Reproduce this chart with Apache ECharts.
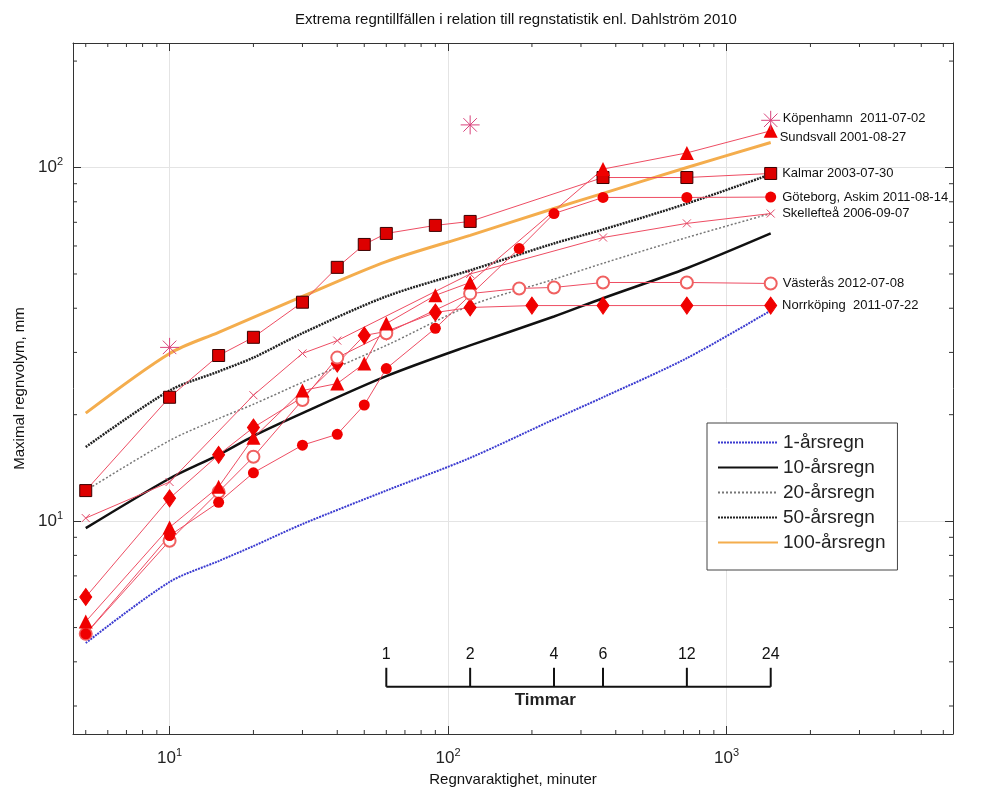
<!DOCTYPE html>
<html>
<head>
<meta charset="utf-8">
<script src="https://cdn.jsdelivr.net/npm/echarts@6.0.0/dist/echarts.min.js"></script>
<style>
  html, body { margin: 0; background: #fff; }
  #main { width: 987px; height: 796px; }
</style>
</head>
<body>
<div id="main"></div>
<script>
var FONT = '"Liberation Sans", Arial, sans-serif';
var XMIN = 4.5, XMAX = 6500, YMIN = 2.5, YMAX = 225;

// Dahlström-kurvor (minuter -> mm)
var curveMin = [5, 10, 15, 20, 30, 60, 120, 240, 360, 720, 1440];
var ar1 = [4.52, 6.73, 7.71, 8.5, 9.81, 12.2, 15.1, 19.4, 22.4, 28.9, 39.4];
var ar10 = [9.55, 13.2, 15.4, 17.4, 20.2, 25.7, 31.4, 37.9, 42.7, 51.9, 65.1];
var ar20 = [12.2, 16.9, 19.5, 21.4, 24.7, 31.4, 40.7, 48.3, 53.6, 63.4, 74.1];
var ar50 = [16.2, 23.4, 26.5, 29.0, 34.0, 43.2, 51.2, 61.0, 66.8, 79.1, 95.7];
var ar100 = [20.2, 29.8, 34.2, 37.7, 43.2, 54.2, 64.3, 76.6, 84.5, 100, 117.7];
var curveNames = ['1-årsregn', '10-årsregn', '20-årsregn', '50-årsregn', '100-årsregn'];

// regntillfällen
var kopMin = [10, 120, 1440];
var kopMm = [31.0, 132, 136];
var sundMin = [5, 10, 15, 20, 30, 40, 50, 60, 90, 120, 360, 720, 1440];
var sundMm = [5.2, 9.6, 12.5, 17.2, 23.4, 24.5, 27.9, 36.2, 43.5, 47.3, 99, 110, 127];
var kalMin = [5, 10, 15, 20, 30, 40, 50, 60, 90, 120, 360, 720, 1440];
var kalMm = [12.2, 22.4, 29.4, 33.1, 41.6, 52.2, 60.6, 65.1, 68.6, 70.4, 93.7, 93.7, 96.2];
var gbgMin = [5, 10, 15, 20, 30, 40, 50, 60, 90, 180, 240, 360, 720, 1440];
var gbgMm = [4.8, 9.1, 11.3, 13.7, 16.4, 17.6, 21.3, 27.0, 35.1, 59.0, 74.1, 82.3, 82.3, 82.5];
var skeMin = [5, 10, 20, 30, 40, 120, 360, 720, 1440];
var skeMm = [10.2, 12.9, 22.7, 29.8, 32.4, 50, 63.4, 69.5, 74.1];
var vasMin = [5, 10, 15, 20, 30, 40, 60, 120, 180, 240, 360, 720, 1440];
var vasMm = [4.8, 8.8, 12.1, 15.2, 22, 29.0, 34.0, 44.0, 45.5, 45.8, 47.3, 47.3, 47.0];
var norMin = [5, 10, 15, 20, 30, 40, 50, 60, 90, 120, 200, 360, 720, 1440];
var norMm = [6.1, 11.6, 15.4, 18.4, 22.4, 27.9, 33.5, 34.4, 38.9, 40.2, 40.7, 40.7, 40.7, 40.7];

// timskala och små tickmarkeringar
var hours = [1, 2, 4, 6, 12, 24];
var BAR_Y = 3.4;
var xMinor = [5, 6, 7, 8, 9, 20, 30, 40, 50, 60, 70, 80, 90, 200, 300, 400, 500, 600, 700, 800, 900, 2000, 3000, 4000, 5000, 6000];
var yMinor = [3, 4, 5, 6, 7, 8, 9, 20, 30, 40, 50, 60, 70, 80, 90, 200];

function pairs(xs, ys) {
  return xs.map(function (x, i) { return [x, ys[i]]; });
}

function withEndLabel(xs, ys, text, lbl) {
  var d = pairs(xs, ys);
  var last = d.length - 1;
  d[last] = {
    value: d[last],
    label: Object.assign({
      show: true, formatter: text, position: 'right', distance: 5,
      color: '#111', fontSize: 13, fontFamily: FONT
    }, lbl || {})
  };
  return d;
}

function curve(name, ys, ls) {
  return {
    name: name, type: 'line', data: pairs(curveMin, ys), symbol: 'none',
    smooth: 0.3, color: ls.color, lineStyle: ls, itemStyle: { opacity: 0 }, z: 2
  };
}

function event(name, xs, ys, text, symbol, size, style, lbl, noLine) {
  return {
    name: name, type: 'line', data: withEndLabel(xs, ys, text, lbl),
    symbol: symbol, symbolSize: size, itemStyle: style,
    lineStyle: noLine ? { width: 0, opacity: 0 } : { color: '#ee4d63', width: 1 }, z: 3
  };
}

function powLabel(v) {
  var l = Math.log10(v), e = Math.round(l);
  if (Math.abs(l - e) > 1e-6) return '';
  return '{b|10}{s|' + e + '}';
}

var labelRich = {
  b: { fontSize: 17, fontFamily: FONT, color: '#222', lineHeight: 22 },
  s: { fontSize: 11, fontFamily: FONT, color: '#222', verticalAlign: 'top', lineHeight: 12 }
};

var tickLine = { stroke: '#333', lineWidth: 1 };

var chart = echarts.init(document.getElementById('main'));
chart.setOption({
  animation: false,
  backgroundColor: '#fff',
  title: {
    text: 'Extrema regntillfällen i relation till regnstatistik enl. Dahlström 2010',
    left: 511, top: 7, textAlign: 'center',
    textStyle: { fontSize: 15, fontWeight: 'normal', fontFamily: FONT, color: '#111' }
  },
  legend: {
    data: curveNames, orient: 'vertical', left: 707, top: 423,
    padding: [10, 12, 18, 10], itemGap: 6, itemWidth: 60, itemHeight: 17,
    backgroundColor: '#fff', borderColor: '#444', borderWidth: 1, borderRadius: 0,
    selectedMode: false, itemStyle: { opacity: 0 },
    textStyle: { fontSize: 19, lineHeight: 17, fontFamily: FONT, color: '#222' }
  },
  grid: { left: 73, right: 34, top: 43, bottom: 62 },
  xAxis: [{
    type: 'log', min: XMIN, max: XMAX,
    name: 'Regnvaraktighet, minuter', nameLocation: 'middle', nameGap: 38,
    nameTextStyle: { fontSize: 15, fontFamily: FONT, color: '#111' },
    axisLine: { lineStyle: { color: '#333', width: 1 } },
    axisTick: { inside: true, length: 8, lineStyle: { color: '#333' } },
    axisLabel: { margin: 13, showMinLabel: false, showMaxLabel: false, formatter: powLabel, rich: labelRich },
    splitLine: { show: true, lineStyle: { color: '#e4e4e4', width: 1 } }
  }, {
    type: 'log', min: XMIN, max: XMAX, position: 'top',
    axisLine: { lineStyle: { color: '#333', width: 1 } },
    axisTick: { inside: true, length: 8, lineStyle: { color: '#333' } },
    axisLabel: { show: false }, splitLine: { show: false }
  }],
  yAxis: [{
    type: 'log', min: YMIN, max: YMAX,
    name: 'Maximal regnvolym, mm', nameLocation: 'middle', nameGap: 41, nameRotate: 90,
    nameTextStyle: { fontSize: 15, fontFamily: FONT, color: '#111' },
    axisLine: { show: true, lineStyle: { color: '#333', width: 1 } },
    axisTick: { show: true, inside: true, length: 8, lineStyle: { color: '#333' } },
    axisLabel: { margin: 10, showMinLabel: false, showMaxLabel: false, formatter: powLabel, rich: labelRich },
    splitLine: { show: true, lineStyle: { color: '#e4e4e4', width: 1 } }
  }, {
    type: 'log', min: YMIN, max: YMAX, position: 'right',
    axisLine: { show: true, lineStyle: { color: '#333', width: 1 } },
    axisTick: { show: true, inside: true, length: 8, lineStyle: { color: '#333' } },
    axisLabel: { show: false }, splitLine: { show: false }
  }],
  series: [
    curve('1-årsregn', ar1, { color: '#3b3bd0', width: 2, type: [2, 1] }),
    curve('10-årsregn', ar10, { color: '#111', width: 2.5, type: 'solid' }),
    curve('20-årsregn', ar20, { color: '#777', width: 1.5, type: [2, 2] }),
    curve('50-årsregn', ar50, { color: '#222', width: 2.5, type: [2, 1] }),
    curve('100-årsregn', ar100, { color: '#f4ad4d', width: 3, type: 'solid' }),

    event('Norrköping', norMin, norMm, 'Norrköping  2011-07-22', 'diamond', [12, 17],
      { color: '#f00000', borderColor: '#f00000' }, { distance: 5 }),
    event('Västerås', vasMin, vasMm, 'Västerås 2012-07-08', 'emptyCircle', 12,
      { color: '#f06060', borderColor: '#f06060', borderWidth: 1.5 }, { distance: 5 }),
    event('Skellefteå', skeMin, skeMm, 'Skellefteå 2006-09-07', 'path://M0,0L10,10M10,0L0,10', 8,
      { color: 'rgba(0,0,0,0)', borderColor: '#e24a6a', borderWidth: 1 }, { distance: 7 }),
    event('Göteborg', gbgMin, gbgMm, 'Göteborg, Askim 2011-08-14', 'circle', 11,
      { color: '#f00000' }, { distance: 6 }),
    event('Kalmar', kalMin, kalMm, 'Kalmar 2003-07-30', 'rect', 12,
      { color: '#dd0000', borderColor: '#3a0000', borderWidth: 1 }, { distance: 5 }),
    event('Sundsvall', sundMin, sundMm, 'Sundsvall 2001-08-27', 'triangle', 14,
      { color: '#f00000' }, { distance: 2, offset: [0, 7] }),
    event('Köpenhamn', kopMin, kopMm, 'Köpenhamn  2011-07-02',
      'path://M10,0L10,20M0,10L20,10M2.9,2.9L17.1,17.1M17.1,2.9L2.9,17.1', 19,
      { color: 'rgba(0,0,0,0)', borderColor: '#d9437c', borderWidth: 1 }, { distance: 2, offset: [0, -2] }, true),

    // små tickmarkeringar på x-axeln (nere och uppe)
    {
      type: 'custom', silent: true, z: 5,
      data: xMinor.map(function (v) { return [v, YMIN]; }),
      renderItem: function (params, api) {
        var b = api.coord([api.value(0), YMIN]);
        var t = api.coord([api.value(0), YMAX]);
        return { type: 'group', children: [
          { type: 'line', shape: { x1: b[0], y1: b[1], x2: b[0], y2: b[1] - 4 }, style: tickLine },
          { type: 'line', shape: { x1: t[0], y1: t[1], x2: t[0], y2: t[1] + 4 }, style: tickLine }
        ] };
      }
    },
    // små tickmarkeringar på y-axeln (vänster och höger)
    {
      type: 'custom', silent: true, z: 5,
      data: yMinor.map(function (v) { return [XMIN, v]; }),
      renderItem: function (params, api) {
        var l = api.coord([XMIN, api.value(1)]);
        var r = api.coord([XMAX, api.value(1)]);
        return { type: 'group', children: [
          { type: 'line', shape: { x1: l[0], y1: l[1], x2: l[0] + 4, y2: l[1] }, style: tickLine },
          { type: 'line', shape: { x1: r[0], y1: r[1], x2: r[0] - 4, y2: r[1] }, style: tickLine }
        ] };
      }
    },
    // timskala
    {
      type: 'custom', silent: true, z: 6,
      data: hours.map(function (h) { return [h * 60, BAR_Y, h]; }),
      renderItem: function (params, api) {
        var p = api.coord([api.value(0), api.value(1)]);
        var kids = [
          { type: 'line', shape: { x1: p[0], y1: p[1], x2: p[0], y2: p[1] - 19 }, style: { stroke: '#111', lineWidth: 2 } },
          { type: 'text', style: { text: String(api.value(2)), x: p[0], y: p[1] - 24, align: 'center', verticalAlign: 'bottom',
            fontSize: 16, fontFamily: FONT, fill: '#111' } }
        ];
        if (params.dataIndex === 0) {
          var e = api.coord([hours[hours.length - 1] * 60, api.value(1)]);
          kids.push({ type: 'line', shape: { x1: p[0], y1: p[1], x2: e[0], y2: e[1] }, style: { stroke: '#111', lineWidth: 2 } });
          kids.push({ type: 'text', style: { text: 'Timmar', x: p[0] + 159, y: p[1] + 5, align: 'center', verticalAlign: 'top',
            fontSize: 17, fontWeight: 'bold', fontFamily: FONT, fill: '#222' } });
        }
        return { type: 'group', children: kids };
      }
    }
  ]
});
</script>
</body>
</html>
